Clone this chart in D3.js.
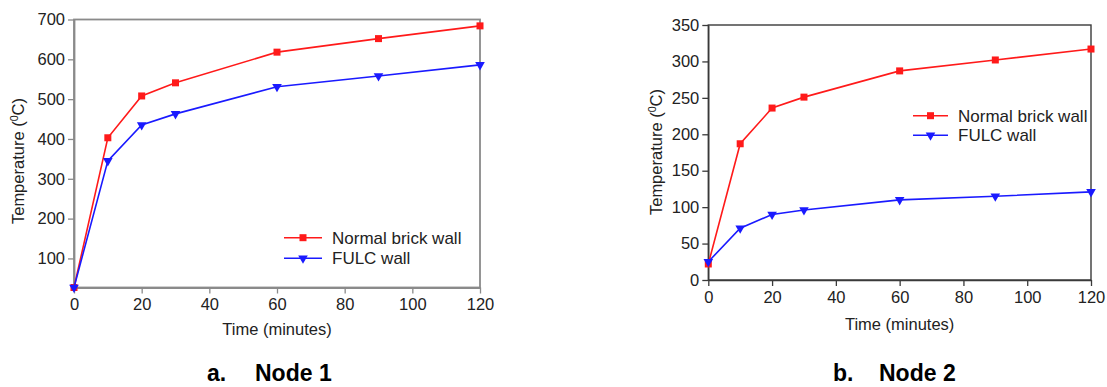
<!DOCTYPE html>
<html>
<head>
<meta charset="utf-8">
<script src="https://cdn.jsdelivr.net/npm/d3@7"></script>
<style>
  html, body { margin: 0; padding: 0; background: #fff; }
  svg { display: block; font-family: "Liberation Sans", Arial, sans-serif; }
  .tick text { fill: #222; }
</style>
</head>
<body>
<svg id="chart" width="1107" height="387"></svg>
<script>
// Time points (minutes)
const times = [0, 10, 20, 30, 60, 90, 120];
const xTicks = [0, 20, 40, 60, 80, 100, 120];

// Node 1 temperatures (°C)
const node1Brick = [27, 403, 508, 541, 618, 652, 684];
const node1Fulc  = [27, 345, 435, 463, 531, 558, 586];
const node1YTicks = [100, 200, 300, 400, 500, 600, 700];

// Node 2 temperatures (°C)
const node2Brick = [22, 187, 236, 251, 287, 302, 317];
const node2Fulc  = [25, 71, 90, 96, 110, 115, 121];
const node2YTicks = [0, 50, 100, 150, 200, 250, 300, 350];

const seriesNames = ["Normal brick wall", "FULC wall"];
const seriesColors = ["#ff1a1a", "#1a1aff"];

const svg = d3.select("#chart");
const fontSize = 16.5;

function drawPanel(cfg) {
  const g = svg.append("g");
  const x = d3.scaleLinear().domain([0, 120]).range([cfg.left, cfg.right]);
  const y = d3.scaleLinear().domain(cfg.yDomain).range([cfg.bottom, cfg.top]);

  // frame
  g.append("rect")
    .attr("x", cfg.left).attr("y", cfg.top)
    .attr("width", cfg.right - cfg.left).attr("height", cfg.bottom - cfg.top)
    .attr("fill", "none").attr("stroke", cfg.axisColor).attr("stroke-width", cfg.frameWidth);

  const xAxis = g.append("g")
    .attr("transform", `translate(0,${cfg.bottom})`)
    .call(d3.axisBottom(x).tickValues(xTicks).tickSize(6).tickPadding(5).tickSizeOuter(0));
  const yAxis = g.append("g")
    .attr("transform", `translate(${cfg.left},0)`)
    .call(d3.axisLeft(y).tickValues(cfg.yTicks).tickSize(6).tickPadding(3).tickSizeOuter(0));
  [xAxis, yAxis].forEach(a => {
    a.select(".domain").attr("stroke", cfg.axisColor).attr("stroke-width", cfg.frameWidth);
    a.selectAll(".tick line").attr("stroke", cfg.axisColor).attr("stroke-width", 1.3);
    a.selectAll(".tick text").attr("font-size", fontSize).attr("font-family", "Liberation Sans, Arial, sans-serif").attr("fill", "#222");
  });

  // axis titles
  g.append("text")
    .attr("x", (cfg.left + cfg.right) / 2).attr("y", cfg.xTitleY)
    .attr("text-anchor", "middle").attr("font-size", fontSize).attr("fill", "#222")
    .text("Time (minutes)");
  const yt = g.append("text")
    .attr("transform", `translate(${cfg.yTitleX},${cfg.yTitleY}) rotate(-90)`)
    .attr("text-anchor", "middle").attr("font-size", fontSize).attr("fill", "#222");
  yt.append("tspan").text("Temperature (");
  yt.append("tspan").attr("font-size", fontSize * 0.65).attr("dy", -6).text("0");
  yt.append("tspan").attr("dy", 6).text("C)");

  // series
  const line = d3.line().x((d, i) => x(times[i])).y(d => y(d));
  const series = [cfg.brick, cfg.fulc];
  series.forEach((vals, si) => {
    g.append("path").datum(vals)
      .attr("d", line).attr("fill", "none")
      .attr("stroke", seriesColors[si]).attr("stroke-width", 1.6);
    if (si === 0) {
      g.selectAll(null).data(vals).enter().append("rect")
        .attr("x", (d, i) => x(times[i]) - 3.5).attr("y", d => y(d) - 3.5)
        .attr("width", 7).attr("height", 7).attr("fill", seriesColors[si]);
    } else {
      g.selectAll(null).data(vals).enter().append("path")
        .attr("d", d3.symbol(d3.symbolTriangle, 40))
        .attr("transform", (d, i) => `translate(${x(times[i])},${y(d)}) rotate(180)`)
        .attr("fill", seriesColors[si]);
    }
  });

  // legend
  seriesNames.forEach((name, si) => {
    const ly = cfg.legendY + si * cfg.legendGap;
    g.append("line")
      .attr("x1", cfg.legendX).attr("x2", cfg.legendX + cfg.legendLen)
      .attr("y1", ly).attr("y2", ly)
      .attr("stroke", seriesColors[si]).attr("stroke-width", 1.6);
    const mx = cfg.legendX + cfg.legendLen / 2;
    if (si === 0) {
      g.append("rect").attr("x", mx - 3.5).attr("y", ly - 3.5)
        .attr("width", 7).attr("height", 7).attr("fill", seriesColors[si]);
    } else {
      g.append("path").attr("d", d3.symbol(d3.symbolTriangle, 40))
        .attr("transform", `translate(${mx},${ly}) rotate(180)`)
        .attr("fill", seriesColors[si]);
    }
    g.append("text")
      .attr("x", cfg.legendX + cfg.legendLen + 10).attr("y", ly + 6)
      .attr("font-size", 17).attr("fill", "#222").text(name);
  });

  // caption
  g.append("text").attr("x", cfg.capX).attr("y", 381)
    .attr("font-size", 23).attr("font-weight", "bold").attr("fill", "#000").text(cfg.capLetter);
  g.append("text").attr("x", cfg.capX2).attr("y", 381)
    .attr("font-size", 23).attr("font-weight", "bold").attr("fill", "#000").text(cfg.capText);
}

drawPanel({
  left: 74, right: 480, top: 19.5, bottom: 287.5,
  yDomain: [27, 700], yTicks: node1YTicks,
  brick: node1Brick, fulc: node1Fulc,
  axisColor: "#8a8a8a", frameWidth: 1.8,
  xTitleY: 335, yTitleX: 24, yTitleY: 161,
  legendX: 284, legendLen: 38, legendY: 237.7, legendGap: 20.6,
  capX: 207, capX2: 255, capLetter: "a.", capText: "Node 1"
});

drawPanel({
  left: 708.3, right: 1091, top: 25, bottom: 280,
  yDomain: [0, 350], yTicks: node2YTicks,
  brick: node2Brick, fulc: node2Fulc,
  axisColor: "#3a3a3a", frameWidth: 1.4,
  xTitleY: 330, yTitleX: 662, yTitleY: 152,
  legendX: 913, legendLen: 35, legendY: 115.7, legendGap: 19.6,
  capX: 833, capX2: 879, capLetter: "b.", capText: "Node 2"
});
</script>
</body>
</html>
